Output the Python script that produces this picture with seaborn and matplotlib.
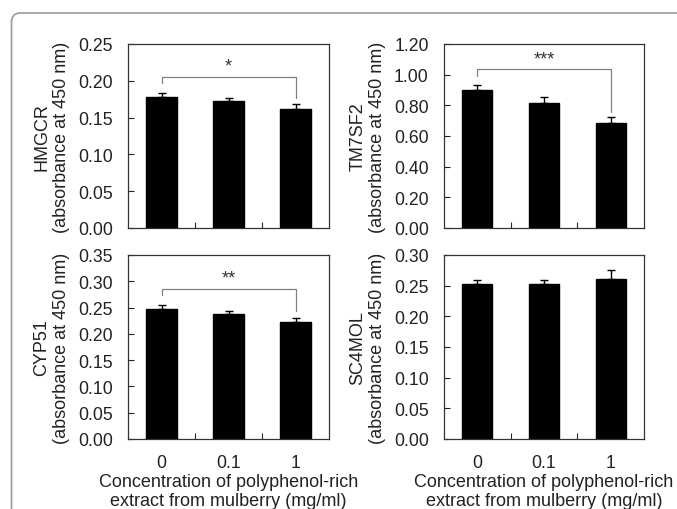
import matplotlib
matplotlib.use("Agg")
import matplotlib.pyplot as plt
from matplotlib.patches import FancyBboxPatch
from matplotlib.transforms import IdentityTransform
import seaborn as sns

# ---- data ------------------------------------------------------------------
doses = ["0", "0.1", "1"]

hmgcr_mean = [0.178, 0.173, 0.162]
hmgcr_err = [0.006, 0.004, 0.006]

tm7sf2_mean = [0.900, 0.813, 0.685]
tm7sf2_err = [0.035, 0.043, 0.039]

cyp51_mean = [0.248, 0.238, 0.223]
cyp51_err = [0.007, 0.006, 0.007]

sc4mol_mean = [0.253, 0.253, 0.261]
sc4mol_err = [0.007, 0.007, 0.014]

genes = ["HMGCR", "TM7SF2", "CYP51", "SC4MOL"]
ymax = [0.25, 1.20, 0.35, 0.30]
ystep = [0.05, 0.20, 0.05, 0.05]
# significance bracket: (top, left end, right end, stars) or None
brackets = [(0.205, 0.197, 0.176, "*"),
            (1.035, 0.990, 0.756, "***"),
            (0.285, 0.273, 0.244, "**"),
            None]

sns.set_style("ticks")
plt.rcParams["font.family"] = ["Liberation Sans", "DejaVu Sans"]

fig = plt.figure(figsize=(6.77, 5.10), dpi=100)

# card frame around the figure
card = FancyBboxPatch((11.5, -30), 720, 526, boxstyle="round,pad=0,rounding_size=9",
                      transform=IdentityTransform(), fill=False,
                      edgecolor="#a0a0a0", linewidth=1.3)
fig.add_artist(card)

W, H = 677.0, 510.0
boxes = [(128, 45, 201, 184), (444, 45, 200, 184),
         (128, 256, 201, 184), (444, 256, 200, 184)]
means = [hmgcr_mean, tm7sf2_mean, cyp51_mean, sc4mol_mean]
errs = [hmgcr_err, tm7sf2_err, cyp51_err, sc4mol_err]

for i, gene in enumerate(genes):
    x0, y0, w, h = boxes[i]
    ax = fig.add_axes([x0 / W, 1 - (y0 + h) / H, w / W, h / H])
    sns.barplot(x=doses, y=means[i], ax=ax, color="black", saturation=1,
                width=0.45, edgecolor="black", errorbar=None)
    ax.errorbar([0, 1, 2], means[i], yerr=[[0, 0, 0], errs[i]], fmt="none",
                ecolor="black", elinewidth=1.0, capsize=2.6, capthick=1.0)
    ax.set_xlim(-0.5, 2.5)
    ax.set_ylim(0, ymax[i])
    n = int(round(ymax[i] / ystep[i]))
    ax.set_yticks([k * ystep[i] for k in range(n + 1)])
    ax.yaxis.set_major_formatter(plt.FormatStrFormatter("%.2f"))
    ax.tick_params(axis="y", direction="in", length=4, width=0.8, pad=11,
                   labelsize=12.7, colors="#222222")
    ax.set_xticks([0.5, 1.5], minor=True)
    ax.tick_params(axis="x", which="minor", direction="in", length=4, width=0.8)
    ax.tick_params(axis="x", which="major", length=0, pad=11, labelsize=12.7,
                   colors="#222222")
    for sp in ax.spines.values():
        sp.set_visible(True)
        sp.set_color("#333333")
        sp.set_linewidth(0.9)
    ax.set_ylabel(f"{gene}\n(absorbance at 450 nm)", fontsize=13,
                  color="#222222", labelpad=6, linespacing=1.15)
    if i >= 2:
        ax.set_xlabel("Concentration of polyphenol-rich\nextract from mulberry (mg/ml)",
                      fontsize=13, color="#222222", labelpad=1, linespacing=1.15)
    else:
        ax.set_xticklabels([])
        ax.set_xlabel("")
    b = brackets[i]
    if b is not None:
        top, left_end, right_end, stars = b
        ax.plot([0, 0, 2, 2], [left_end, top, top, right_end], color="#808080",
                lw=0.9, solid_joinstyle="miter")
        ax.text(1, top + 0.012 * ymax[i], stars, ha="center", va="bottom",
                fontsize=13, color="#333333")

fig.savefig("out.png", dpi=100)
